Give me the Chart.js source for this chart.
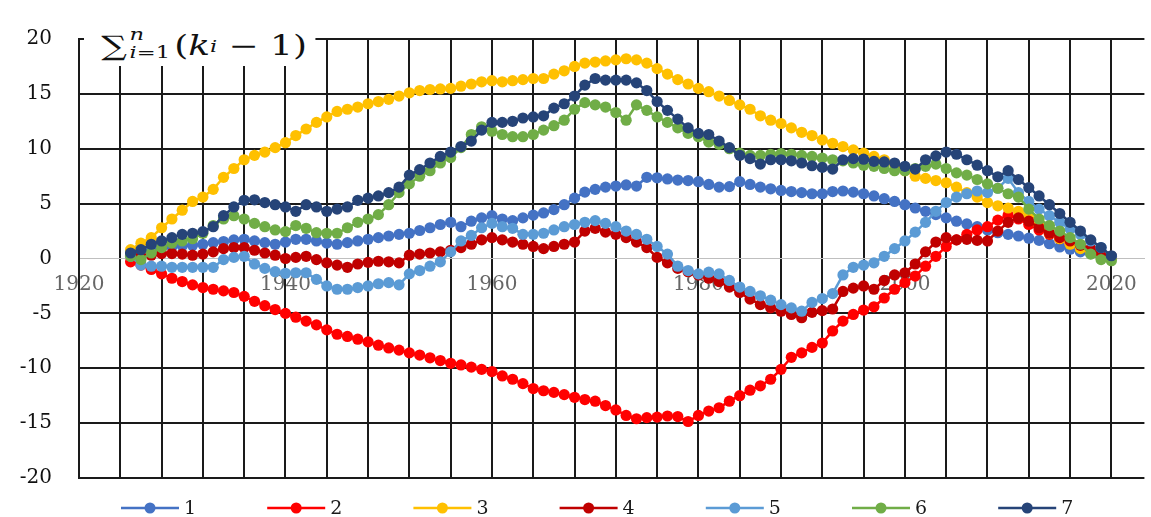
<!DOCTYPE html>
<html>
<head>
<meta charset="utf-8">
<title>Cumulative sum chart</title>
<script src="https://cdn.jsdelivr.net/npm/chart.js@4.4.1/dist/chart.umd.min.js"></script>
<style>
    html, body { margin: 0; padding: 0; background: #fff; }
    #wrap { position: relative; width: 1151px; height: 517px; }
    #formula {
        position: absolute; left: 84px; top: 23px; height: 43px;
        padding: 2px 6px 0 13px; box-sizing: border-box; background: #fff; color: #111;
        font-family: 'DejaVu Serif', serif; font-size: 27px;
        display: flex; align-items: center; white-space: nowrap;
        transform: scaleX(1.33); transform-origin: left top;
    }
    #formula .sum { font-size: 27px; }
    #formula .lim { display: inline-flex; flex-direction: column; font-size: 17px; line-height: 18px; margin: 0 3px 0 2px; }
    #formula .lim .up { margin-top: -6px; }
    #formula sub { font-size: 17px; vertical-align: -8px; }
</style>
</head>
<body>
<div id="wrap">
    <canvas id="chart" width="1151" height="517"></canvas>
    <div id="formula"><span class="sum">∑</span><span class="lim"><i class="up">n</i><span><i>i</i>=1</span></span>(<i>k</i><sub><i>i</i></sub>&nbsp;−&nbsp;1)</div>
</div>
<script>
// years of the series (one point per year)
const years = [1925, 1926, 1927, 1928, 1929,
    1930, 1931, 1932, 1933, 1934, 1935, 1936, 1937, 1938, 1939,
    1940, 1941, 1942, 1943, 1944, 1945, 1946, 1947, 1948, 1949,
    1950, 1951, 1952, 1953, 1954, 1955, 1956, 1957, 1958, 1959,
    1960, 1961, 1962, 1963, 1964, 1965, 1966, 1967, 1968, 1969,
    1970, 1971, 1972, 1973, 1974, 1975, 1976, 1977, 1978, 1979,
    1980, 1981, 1982, 1983, 1984, 1985, 1986, 1987, 1988, 1989,
    1990, 1991, 1992, 1993, 1994, 1995, 1996, 1997, 1998, 1999,
    2000, 2001, 2002, 2003, 2004, 2005, 2006, 2007, 2008, 2009,
    2010, 2011, 2012, 2013, 2014, 2015, 2016, 2017, 2018, 2019,
    2020];

// vertical grid every 4 years, labels every 20
const gridYears = [1920, 1924, 1928, 1932, 1936, 1940, 1944, 1948, 1952, 1956, 1960, 1964, 1968,
    1972, 1976, 1980, 1984, 1988, 1992, 1996, 2000, 2004, 2008, 2012, 2016, 2020];
const labelYears = [1920, 1940, 1960, 1980, 2000, 2020];
const yTicks = [-20, -15, -10, -5, 0, 5, 10, 15, 20];

const seriesNames = ['1', '2', '3', '4', '5', '6', '7'];
const seriesColors = ['#4472C4', '#FF0000', '#FFC000', '#C00000', '#5B9BD5', '#70AD47', '#264478'];

const s1 = [0.5, 0.75, 0.9, 1.0, 1.1,
    1.15, 1.2, 1.3, 1.45, 1.55, 1.7, 1.75, 1.6, 1.45, 1.3,
    1.5, 1.75, 1.75, 1.6, 1.4, 1.3, 1.45, 1.6, 1.75, 1.9,
    2.05, 2.2, 2.3, 2.55, 2.8, 3.1, 3.3, 2.9, 3.4, 3.7,
    3.9, 3.6, 3.45, 3.7, 3.95, 4.15, 4.45, 4.9, 5.5, 6.05,
    6.3, 6.5, 6.6, 6.7, 6.6, 7.4, 7.35, 7.25, 7.15, 7.1,
    7.0, 6.75, 6.5, 6.55, 7.0, 6.75, 6.5, 6.35, 6.2, 6.1,
    6.0, 5.9, 5.9, 6.1, 6.15, 6.05, 5.9, 5.7, 5.45, 5.2,
    4.9, 4.6, 4.3, 4.0, 3.7, 3.4, 3.15, 2.9, 2.6, 2.35,
    2.2, 2.05, 1.85, 1.65, 1.35, 1.05, 0.85, 0.6, 0.45, 0.25,
    0.1];

const s2 = [-0.3, -0.6, -1.0, -1.4, -1.8,
    -2.1, -2.4, -2.65, -2.8, -2.95, -3.1, -3.45, -3.9, -4.3, -4.65,
    -5.0, -5.35, -5.7, -6.05, -6.5, -6.9, -7.1, -7.35, -7.6, -7.9,
    -8.15, -8.35, -8.6, -8.8, -9.05, -9.3, -9.55, -9.7, -9.9, -10.1,
    -10.3, -10.7, -11.0, -11.4, -11.85, -12.05, -12.2, -12.4, -12.65, -12.85,
    -13.0, -13.4, -13.8, -14.3, -14.6, -14.5, -14.45, -14.35, -14.4, -14.85,
    -14.3, -13.9, -13.6, -13.0, -12.5, -12.0, -11.6, -11.0, -10.1, -9.0,
    -8.6, -8.1, -7.7, -6.6, -5.7, -5.1, -4.7, -4.4, -3.6, -2.8,
    -2.2, -1.6, -0.7, 0.2, 1.1, 1.7, 2.2, 2.6, 2.9, 3.5,
    3.95, 3.6, 3.1, 2.6, 2.2, 1.8, 1.4, 1.05, 0.75, 0.45,
    0.15];

const s3 = [0.8, 1.4, 1.9, 2.8, 3.6,
    4.4, 5.2, 5.6, 6.3, 7.4, 8.2, 9.0, 9.4, 9.7, 10.1,
    10.55, 11.2, 11.8, 12.4, 12.9, 13.4, 13.6, 13.8, 14.1, 14.3,
    14.5, 14.8, 15.1, 15.3, 15.4, 15.45, 15.5, 15.7, 15.9, 16.1,
    16.2, 16.1, 16.2, 16.3, 16.4, 16.4, 16.8, 17.1, 17.5, 17.8,
    17.9, 18.0, 18.1, 18.2, 18.1, 17.8, 17.3, 16.8, 16.3, 15.9,
    15.5, 15.2, 14.8, 14.4, 14.0, 13.6, 13.0, 12.6, 12.3, 11.9,
    11.5, 11.2, 10.8, 10.5, 10.2, 9.9, 9.6, 9.3, 9.0, 8.6,
    8.0, 7.5, 7.3, 7.1, 6.9, 6.5, 6.0, 5.6, 5.1, 4.8,
    4.6, 4.3, 3.9, 3.0, 2.3, 1.8, 1.3, 0.9, 0.6, 0.3,
    0.1];

const s4 = [0.3, 0.2, 0.3, 0.45, 0.45,
    0.4, 0.3, 0.4, 0.6, 0.9, 1.0, 1.0, 0.75, 0.5, 0.3,
    0.0, 0.1, 0.2, -0.1, -0.4, -0.6, -0.8, -0.5, -0.35, -0.25,
    -0.3, -0.4, 0.3, 0.4, 0.5, 0.6, 0.75, 1.0, 1.3, 1.7,
    1.9, 1.7, 1.5, 1.3, 1.1, 0.9, 1.1, 1.3, 1.5, 2.5,
    2.75, 2.4, 2.2, 1.9, 1.5, 1.0, 0.1, -0.4, -0.9, -1.2,
    -1.5, -1.8, -2.1, -2.6, -3.1, -3.7, -4.2, -4.5, -4.8, -5.1,
    -5.4, -4.9, -4.75, -4.6, -3.0, -2.7, -2.5, -2.8, -2.0, -1.5,
    -1.3, -0.5, 0.6, 1.5, 1.9, 1.7, 1.75, 1.65, 1.6, 2.5,
    3.3, 3.7, 3.4, 2.8, 2.3, 1.9, 1.6, 1.2, 0.9, 0.5,
    0.2];

const s5 = [0.2, -0.6, -0.7, -0.7, -0.8,
    -0.8, -0.8, -0.8, -0.8, -0.1, 0.1, 0.2, -0.5, -0.9, -1.2,
    -1.35, -1.3, -1.3, -1.9, -2.5, -2.8, -2.8, -2.65, -2.5, -2.3,
    -2.2, -2.4, -1.4, -1.1, -0.7, -0.3, 0.6, 1.6, 2.1, 2.8,
    3.2, 2.9, 2.75, 2.2, 2.2, 2.3, 2.6, 2.9, 3.1, 3.3,
    3.45, 3.2, 2.9, 2.5, 2.2, 1.75, 1.1, 0.4, -0.7, -1.1,
    -1.4, -1.25, -1.4, -2.0, -2.6, -3.0, -3.4, -3.8, -4.2, -4.5,
    -4.8, -4.0, -3.65, -3.2, -1.5, -0.8, -0.6, -0.4, 0.2, 0.9,
    1.6, 2.4, 3.3, 4.3, 5.1, 5.6, 5.9, 6.15, 6.0, 6.4,
    7.3, 6.0, 5.2, 4.5, 3.9, 3.3, 2.7, 2.2, 1.6, 1.0,
    0.2];

const s6 = [0.2, -0.1, 0.5, 1.0, 1.4,
    1.6, 1.8, 2.3, 3.0, 3.6, 3.9, 3.6, 3.2, 2.9, 2.6,
    2.45, 3.0, 2.75, 2.35, 2.3, 2.3, 2.8, 3.3, 3.6, 4.0,
    4.9, 6.0, 6.8, 7.5, 8.0, 8.7, 9.2, 10.1, 11.3, 12.0,
    11.6, 11.3, 11.1, 11.1, 11.3, 11.7, 12.1, 12.6, 13.6, 14.2,
    14.0, 13.8, 13.3, 12.6, 14.0, 13.5, 12.9, 12.4, 11.9, 11.4,
    11.1, 10.6, 10.4, 10.0, 9.6, 9.4, 9.4, 9.5, 9.55, 9.5,
    9.4, 9.3, 9.15, 9.0, 8.9, 8.7, 8.5, 8.4, 8.2, 8.0,
    8.0, 8.2, 8.4, 8.6, 8.2, 7.8, 7.6, 7.2, 6.8, 6.4,
    5.9, 5.6, 4.5, 3.6, 3.0, 2.5, 1.9, 1.3, 0.4, -0.1,
    -0.2];

const s7 = [0.5, 0.8, 1.3, 1.6, 1.9,
    2.2, 2.3, 2.45, 2.9, 3.9, 4.7, 5.3, 5.35, 5.1, 4.9,
    4.7, 4.3, 4.9, 4.7, 4.3, 4.5, 4.7, 5.3, 5.5, 5.7,
    6.0, 6.5, 7.6, 8.1, 8.7, 9.3, 9.7, 10.2, 10.7, 11.7,
    12.4, 12.4, 12.5, 12.8, 12.9, 13.0, 13.7, 14.1, 14.8, 15.8,
    16.4, 16.25, 16.25, 16.25, 16.0, 15.3, 14.3, 13.5, 12.7, 11.9,
    11.4, 11.3, 10.7, 10.1, 9.4, 9.1, 8.6, 9.0, 9.0, 8.9,
    8.7, 8.45, 8.3, 8.15, 9.0, 9.1, 9.05, 8.85, 8.8, 8.7,
    8.4, 8.15, 9.0, 9.35, 9.7, 9.5, 9.0, 8.5, 8.0, 7.45,
    8.0, 7.2, 6.45, 5.7, 4.9, 4.1, 3.3, 2.5, 1.7, 1.0,
    0.25];

const seriesValues = [s1, s2, s3, s4, s5, s6, s7];

const FONT = "'DejaVu Serif', serif";

// Excel-style legend: short line with a dot, then the name
const bottomLegend = {
    id: 'bottomLegend',
    afterDraw(chart) {
        const ctx = chart.ctx;
        ctx.save();
        ctx.font = "19px 'DejaVu Serif'";
        ctx.textBaseline = 'middle';
        chart.data.datasets.forEach((ds, i) => {
            const x0 = 121 + i * 146.2;
            const y = 508;
            ctx.strokeStyle = ds.borderColor;
            ctx.lineWidth = 2.5;
            ctx.beginPath();
            ctx.moveTo(x0, y);
            ctx.lineTo(x0 + 58, y);
            ctx.stroke();
            ctx.fillStyle = ds.borderColor;
            ctx.beginPath();
            ctx.arc(x0 + 29, y, 5.5, 0, Math.PI * 2);
            ctx.fill();
            ctx.fillStyle = '#1a1a1a';
            ctx.fillText(ds.label, x0 + 63, y + 1);
        });
        ctx.restore();
    }
};

const datasets = seriesValues.map((vals, i) => ({
    label: seriesNames[i],
    data: vals,
    borderColor: seriesColors[i],
    backgroundColor: seriesColors[i],
    pointBackgroundColor: seriesColors[i],
    pointBorderColor: seriesColors[i],
    pointBorderWidth: 0,
    pointRadius: 5.6,
    borderWidth: 2.5,
    tension: 0,
    order: seriesNames.length - i   // later series drawn on top
}));

new Chart(document.getElementById('chart'), {
    type: 'line',
    data: { labels: years, datasets },
    plugins: [bottomLegend],
    options: {
        responsive: false,
        animation: false,
        events: [],
        layout: { padding: { top: 21, right: 0, bottom: 27, left: 0 } },
        plugins: {
            legend: { display: false },
            tooltip: { enabled: false }
        },
        scales: {
            x: {
                type: 'linear',
                position: { y: 0 },
                min: 1920,
                max: 2023.2,
                afterBuildTicks: (scale) => {
                    scale.ticks = gridYears.map(v => ({ value: v }));
                },
                grid: { color: '#1a1a1a', lineWidth: 2, drawTicks: false },
                border: { display: true, color: '#bfbfbf', width: 1 },
                ticks: {
                    autoSkip: false,
                    maxRotation: 0,
                    padding: 14,
                    color: '#666',
                    font: { family: FONT, size: 20 },
                    callback: (v) => labelYears.includes(v) ? String(v) : ''
                }
            },
            y: {
                min: -20,
                max: 20,
                afterBuildTicks: (scale) => {
                    scale.ticks = yTicks.map(v => ({ value: v }));
                },
                afterFit: (scale) => { scale.width = 79; },
                grid: {
                    drawTicks: false,
                    color: (c) => c.tick && c.tick.value === 0 ? '#bfbfbf' : '#1a1a1a',
                    lineWidth: (c) => c.tick && c.tick.value === 0 ? 1 : 2
                },
                border: { display: true, color: '#1a1a1a', width: 2 },
                ticks: {
                    padding: 27,
                    color: '#111',
                    font: { family: FONT, size: 20 }
                }
            }
        }
    }
});
</script>
</body>
</html>
